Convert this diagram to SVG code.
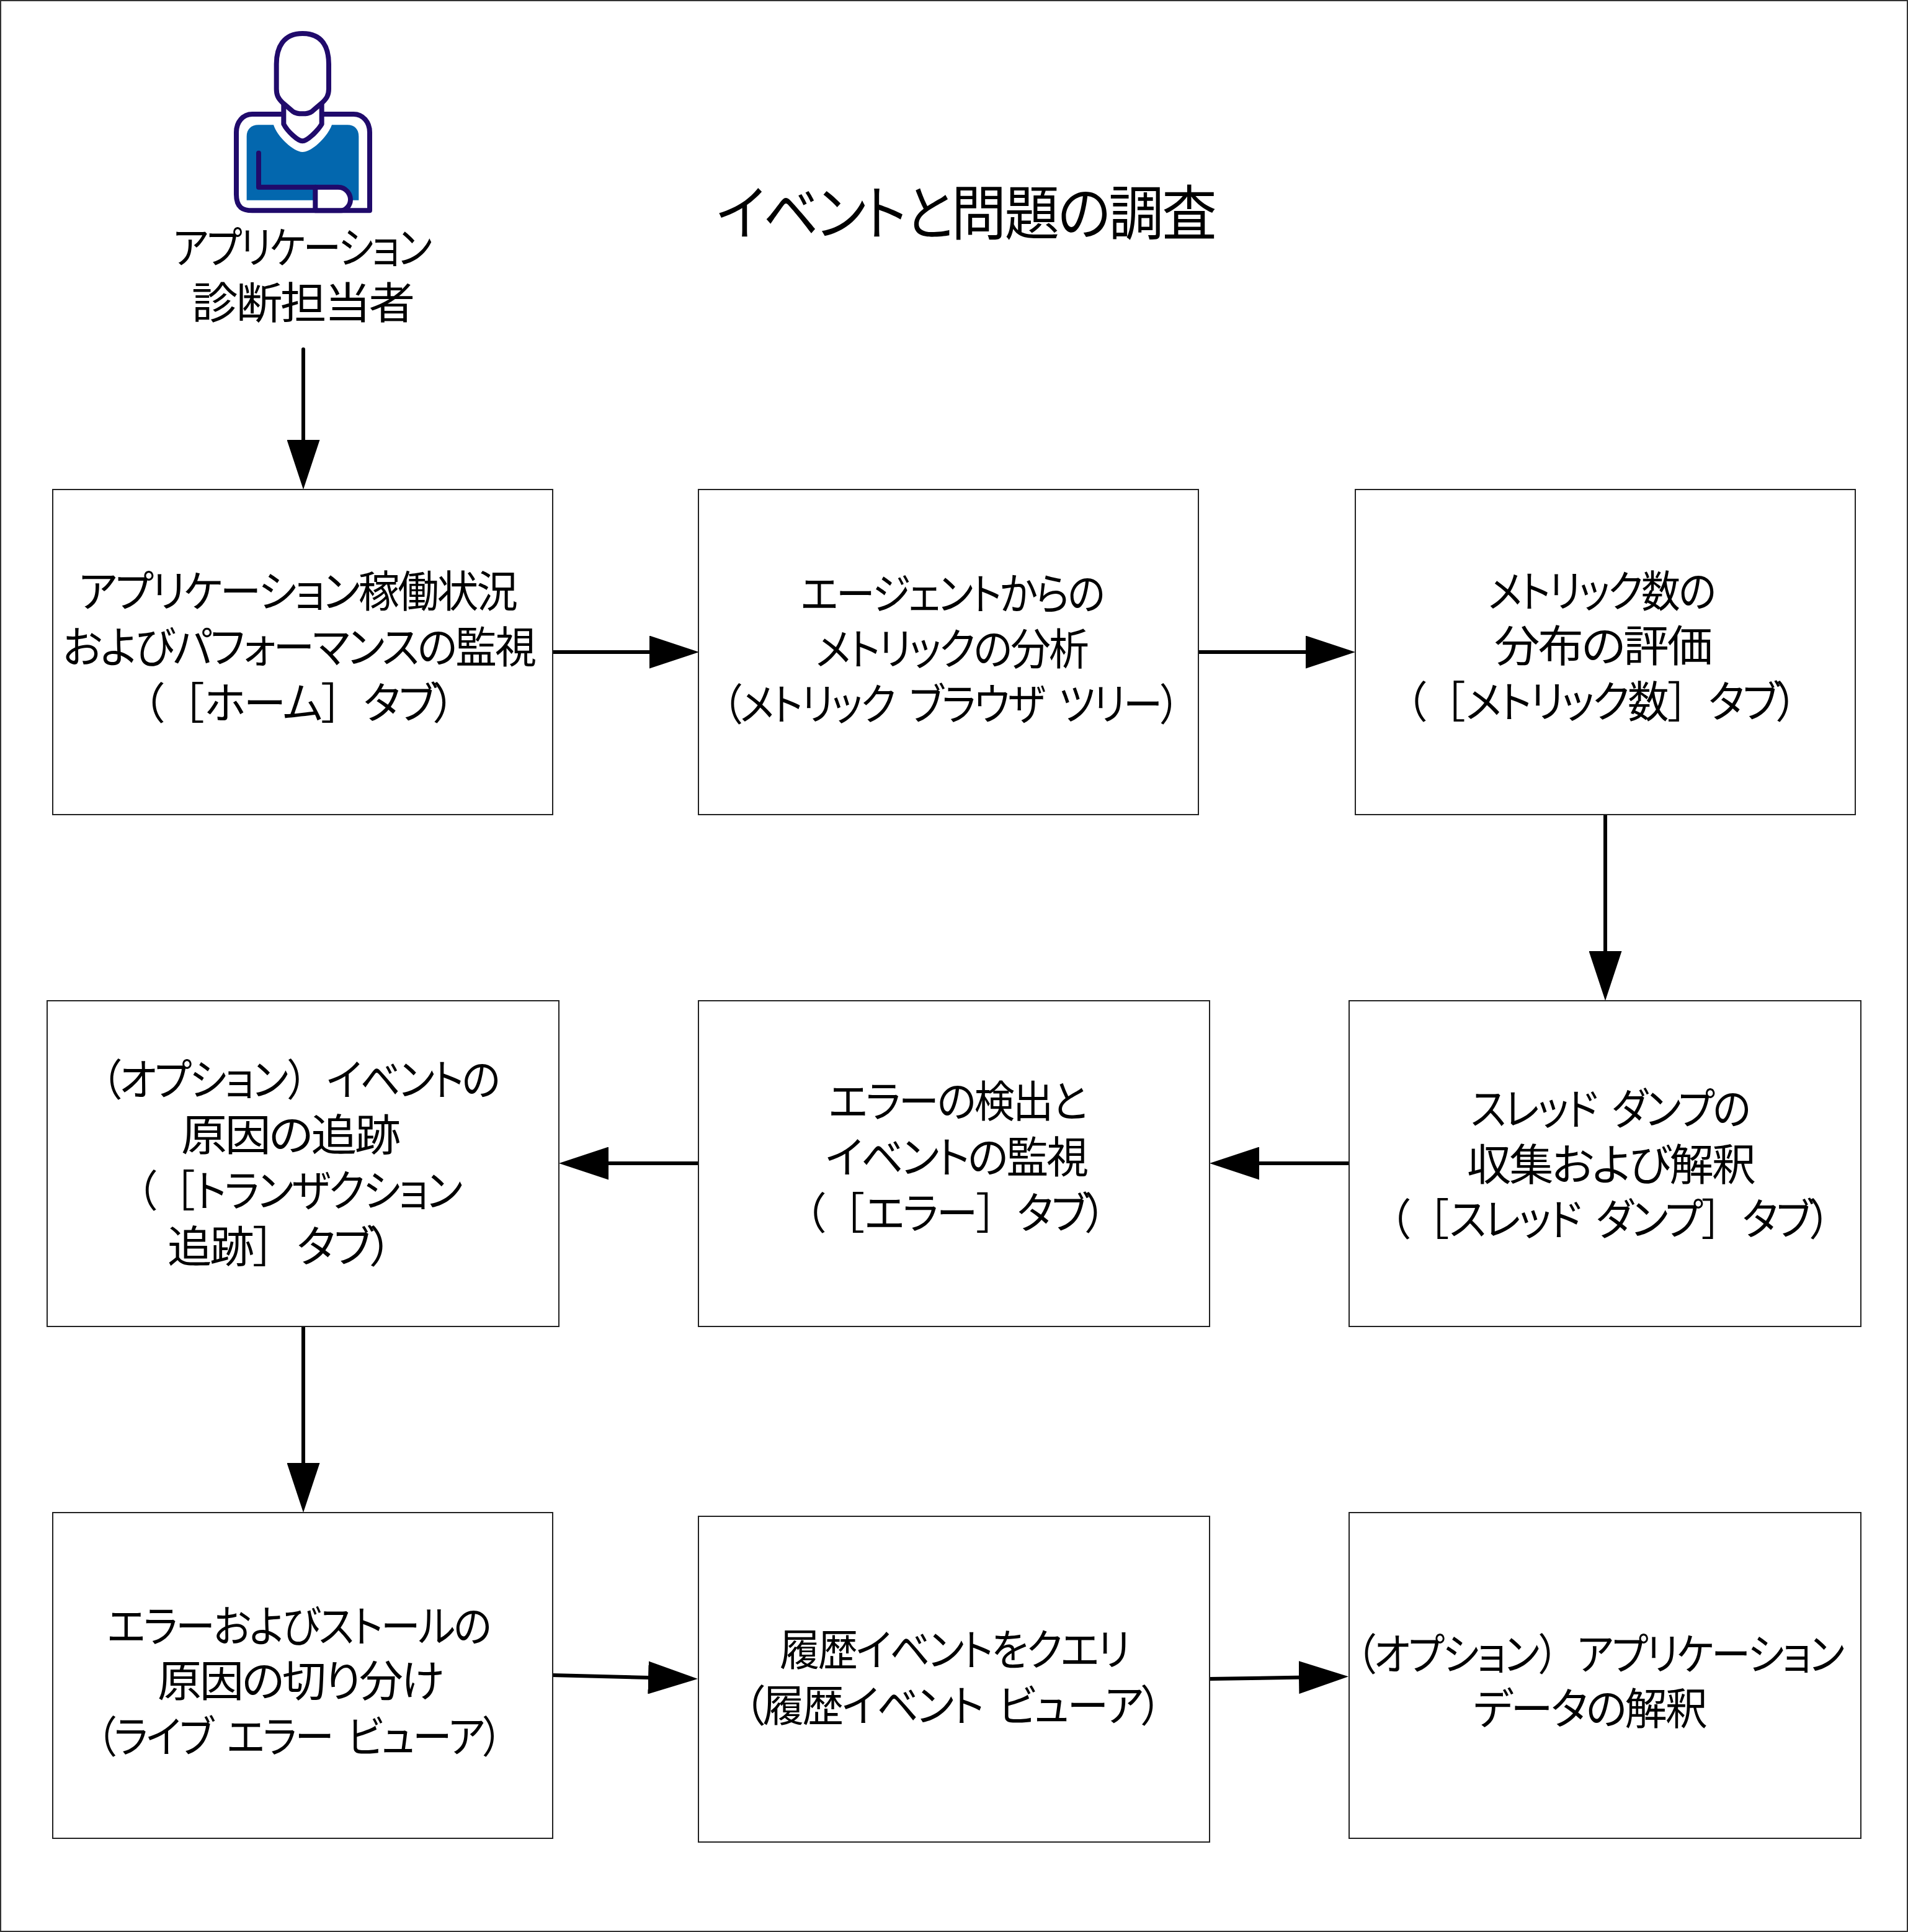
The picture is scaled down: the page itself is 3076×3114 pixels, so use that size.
<svg xmlns="http://www.w3.org/2000/svg" width="3076" height="3114" viewBox="0 0 3076 3114" lang="ja">
<style>
text{font-family:"Noto Sans CJK JP","Noto Sans",sans-serif;font-size:70px;fill:#000;white-space:pre;text-spacing-trim:space-all;word-spacing:.2em;font-feature-settings:"palt";letter-spacing:-3px}
.title{font-size:96px}
.f{font-feature-settings:"palt" 0;letter-spacing:0}
.box{fill:#fff;stroke:#222;stroke-width:2}
.conn{fill:none;stroke:#000;stroke-width:6;stroke-linecap:round}
.ic{stroke:#200a6b;stroke-width:24;stroke-linejoin:round;stroke-linecap:round}
</style>
<defs>
<marker id="ah" markerUnits="userSpaceOnUse" markerWidth="80" markerHeight="53" refX="40" refY="26.5" orient="auto"><path d="M0,0 L80,26.5 L0,53 Z" fill="#000"/></marker>
</defs>
<rect width="3076" height="3114" fill="#fff"/>
<rect x="1" y="1" width="3074" height="3112" fill="none" stroke="#333" stroke-width="2"/>
<g id="actor">
<g transform="translate(260 20) scale(.33333)">
<path d="M363,580 L363,880 C363,945 395,958 440,958 L1008,958 L1008,580 C1008,530 975,492 930,492 L440,492 C395,492 363,530 363,580 Z" fill="#fff" class="ic"/>
<path d="M543,544 C560,600 640,675 683,675 C730,675 805,600 825,544 L900,544 C935,544 955,565 955,600 L955,908 L413,908 L413,600 C413,565 435,544 470,544 Z" fill="#0367ae"/>
<path d="M592,445 L592,540 C610,575 660,622 683,622 C705,622 755,575 776,540 L776,445 Z" fill="#fff" class="ic"/>
<path d="M683,102 C780,102 810,170 810,250 L810,370 C810,400 800,415 780,435 L730,478 C715,490 700,490 683,490 C665,490 650,490 635,478 L585,435 C565,415 557,400 557,370 L557,250 C557,170 590,102 683,102 Z" fill="#fff" class="ic"/>
<path d="M745,845 L855,845 C895,845 915,880 915,905 C915,930 895,958 870,958 L745,958 Z" fill="#fff" class="ic"/>
<path d="M471,680 L471,845 L745,845" fill="none" class="ic"/>
</g>
<text x="279" y="425" textLength="415" lengthAdjust="spacingAndGlyphs">アプリケーション</text>
<text x="309" y="514" textLength="357" lengthAdjust="spacingAndGlyphs">診断担当者</text>
</g>
<g id="title"><text class="title" x="1155" y="378" textLength="804" lengthAdjust="spacingAndGlyphs">イベントと問題の調査</text></g>
<g id="connectors">
<path class="conn" d="M489,563 L489,749" marker-end="url(#ah)"/>
<path class="conn" d="M891,1051 L1087,1051" marker-end="url(#ah)"/>
<path class="conn" d="M1932,1051 L2145,1051" marker-end="url(#ah)"/>
<path class="conn" d="M2588,1313 L2588,1573" marker-end="url(#ah)"/>
<path class="conn" d="M2175,1875 L1990,1875" marker-end="url(#ah)"/>
<path class="conn" d="M1126,1875 L941,1875" marker-end="url(#ah)"/>
<path class="conn" d="M489,2138 L489,2398" marker-end="url(#ah)"/>
<path class="conn" d="M890,2700 L1085,2705" marker-end="url(#ah)"/>
<path class="conn" d="M1950,2706 L2134,2703" marker-end="url(#ah)"/>
</g>
<g id="n1"><rect class="box" x="85" y="789" width="806" height="524"/>
<text x="127" y="979" textLength="705" lengthAdjust="spacingAndGlyphs">アプリケーション稼働状況</text>
<text x="101" y="1069" textLength="761" lengthAdjust="spacingAndGlyphs">およびパフォーマンスの監視</text>
<text x="230" y="1159" textLength="501" lengthAdjust="spacingAndGlyphs">（<tspan class="f">［</tspan>ホーム<tspan class="f">］</tspan>タブ）</text></g>
<g id="n2"><rect class="box" x="1126" y="789" width="806" height="524"/>
<text x="1291" y="983" textLength="488" lengthAdjust="spacingAndGlyphs">エージェントからの</text>
<text x="1315" y="1072" textLength="438" lengthAdjust="spacingAndGlyphs">メトリックの分析</text>
<text x="1164" y="1161" textLength="736" lengthAdjust="spacingAndGlyphs">（メトリック ブラウザ ツリー）</text></g>
<g id="n3"><rect class="box" x="2185" y="789" width="806" height="524"/>
<text x="2399" y="979" textLength="365" lengthAdjust="spacingAndGlyphs">メトリック数の</text>
<text x="2409" y="1067" textLength="349" lengthAdjust="spacingAndGlyphs">分布の評価</text>
<text x="2266" y="1157" textLength="629" lengthAdjust="spacingAndGlyphs">（<tspan class="f">［</tspan>メトリック数<tspan class="f">］</tspan>タブ）</text></g>
<g id="n4"><rect class="box" x="2175" y="1613" width="825" height="525"/>
<text x="2371" y="1813" textLength="449" lengthAdjust="spacingAndGlyphs">スレッド ダンプの</text>
<text x="2365" y="1903" textLength="463" lengthAdjust="spacingAndGlyphs">収集および解釈</text>
<text x="2240" y="1991" textLength="709" lengthAdjust="spacingAndGlyphs">（<tspan class="f">［</tspan>スレッド ダンプ<tspan class="f">］</tspan>タブ）</text></g>
<g id="n5"><rect class="box" x="1126" y="1613" width="824" height="525"/>
<text x="1336" y="1801" textLength="414" lengthAdjust="spacingAndGlyphs">エラーの検出と</text>
<text x="1331" y="1891" textLength="421" lengthAdjust="spacingAndGlyphs">イベントの監視</text>
<text x="1297" y="1981" textLength="484" lengthAdjust="spacingAndGlyphs">（<tspan class="f">［</tspan>エラー<tspan class="f">］</tspan>タブ）</text></g>
<g id="n6"><rect class="box" x="76" y="1613" width="825" height="525"/>
<text x="163" y="1766" textLength="641" lengthAdjust="spacingAndGlyphs">（オプション<tspan class="f">）</tspan>イベントの</text>
<text x="292" y="1855" textLength="351" lengthAdjust="spacingAndGlyphs">原因の追跡</text>
<text x="220" y="1945" textLength="523" lengthAdjust="spacingAndGlyphs">（<tspan class="f">［</tspan>トランザクション</text>
<text x="270" y="2035" textLength="360" lengthAdjust="spacingAndGlyphs">追跡<tspan class="f">］</tspan>タブ）</text></g>
<g id="n7"><rect class="box" x="85" y="2438" width="806" height="525"/>
<text x="173" y="2647" textLength="617" lengthAdjust="spacingAndGlyphs">エラーおよびストールの</text>
<text x="254" y="2735" textLength="459" lengthAdjust="spacingAndGlyphs">原因の切り分け</text>
<text x="155" y="2825" textLength="653" lengthAdjust="spacingAndGlyphs">（ライブ エラー ビューア）</text></g>
<g id="n8"><rect class="box" x="1126" y="2444" width="824" height="525"/>
<text x="1257" y="2685" textLength="562" lengthAdjust="spacingAndGlyphs">履歴イベントをクエリ</text>
<text x="1199" y="2775" textLength="672" lengthAdjust="spacingAndGlyphs">（履歴イベント ビューア）</text></g>
<g id="n9"><rect class="box" x="2175" y="2438" width="825" height="525"/>
<text x="2186" y="2692" textLength="785" lengthAdjust="spacingAndGlyphs">（オプション<tspan class="f">）</tspan>アプリケーション</text>
<text x="2375" y="2780" textLength="375" lengthAdjust="spacingAndGlyphs">データの解釈</text></g>
</svg>
